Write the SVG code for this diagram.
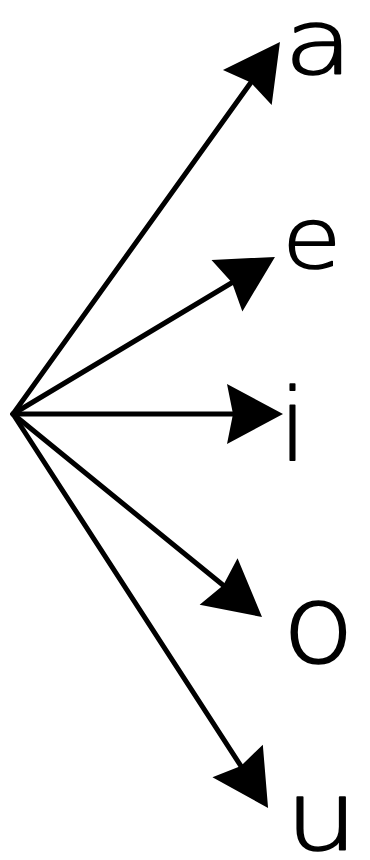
<svg xmlns="http://www.w3.org/2000/svg" width="370" height="860" viewBox="0 0 370 860">
<style>
.conn{stroke:#000;stroke-width:5;fill:none;stroke-linecap:round}
.lbl{font-family:"DejaVu Sans","Liberation Sans",sans-serif;font-weight:200;fill:#000;stroke:#000;stroke-width:1.6;stroke-linejoin:round}
</style>
<defs>
<marker id="ah" markerUnits="userSpaceOnUse" markerWidth="70" markerHeight="70" viewBox="-2 -35 64 70" refX="36" refY="0" orient="auto">
<path d="M56,0 L0,-30 L6,0 L0,30 Z" fill="#000"/>
</marker>
</defs>
<rect width="370" height="860" fill="#fff"/>
<g id="connectors">
<line class="conn" x1="13" y1="414" x2="268.3" y2="58.2" marker-end="url(#ah)"/>
<line class="conn" x1="13" y1="414" x2="257.8" y2="267.2" marker-end="url(#ah)"/>
<line class="conn" x1="13" y1="414" x2="263" y2="414" marker-end="url(#ah)"/>
<line class="conn" x1="13" y1="414" x2="246.5" y2="604.3" marker-end="url(#ah)"/>
<line class="conn" x1="13" y1="414" x2="257.2" y2="791.2" marker-end="url(#ah)"/>
</g>
<g id="node-a"><text class="lbl" transform="translate(284,74) scale(1.25,1)" font-size="90">a</text></g>
<g id="node-e"><text class="lbl" transform="translate(282,268) scale(1.15,1)" font-size="84">e</text></g>
<g id="node-i"><text class="lbl" x="279" y="460" font-size="100">i</text></g>
<g id="node-o"><text class="lbl" transform="translate(282,662) scale(1.1,1)" font-size="108">o</text></g>
<g id="node-u"><text class="lbl" transform="translate(285,850) scale(1.2,1)" font-size="96">u</text></g>
</svg>
